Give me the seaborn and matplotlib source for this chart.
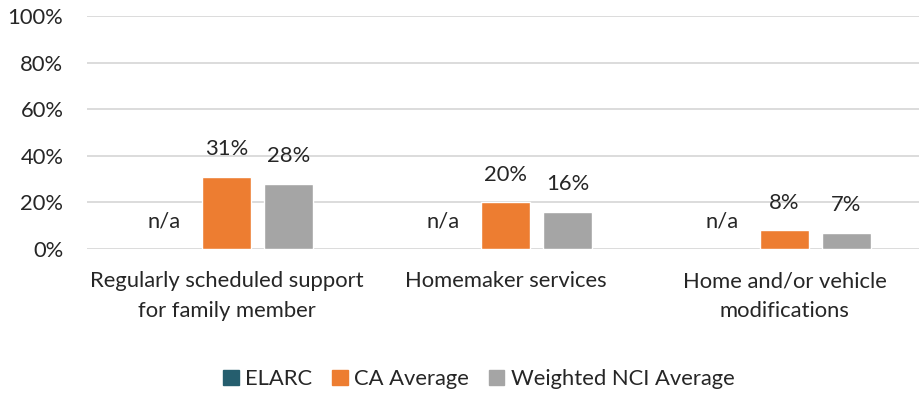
import numpy as np
import pandas as pd
import matplotlib
matplotlib.use("Agg")
import matplotlib.pyplot as plt
import seaborn as sns

categories = [
    "Regularly scheduled support\nfor family member",
    "Homemaker services",
    "Home and/or vehicle\nmodifications",
]
series = ["ELARC", "CA Average", "Weighted NCI Average"]
elarc = [np.nan, np.nan, np.nan]
ca_average = [31, 20, 8]
nci_average = [28, 16, 7]
colors = ["#255E6E", "#ED7D31", "#A5A5A5"]

rows = []
for name, vals in zip(series, [elarc, ca_average, nci_average]):
    for cat, v in zip(categories, vals):
        rows.append({"category": cat, "series": name, "value": v})
df = pd.DataFrame(rows)

sns.set_theme(style="white")
plt.rcParams["font.family"] = ["Lato", "DejaVu Sans"]
text_color = "#262626"
fs = 15.8

fig = plt.figure(figsize=(9.19, 3.93), dpi=100)
ax = fig.add_axes([87 / 919, 144 / 393, 832 / 919, 233 / 393])

width = 0.667
sns.barplot(
    data=df, x="category", y="value", hue="series",
    hue_order=series, order=categories, palette=colors,
    width=width, gap=0.21, ax=ax, legend=False,
    saturation=1, err_kws={"linewidth": 0},
)

ax.set_ylim(0, 100)
ax.set_xlim(-0.5, 2.5 - 5 / 279)
ax.set_yticks(np.arange(0, 101, 20))
ax.set_yticklabels([f"{v}%" for v in range(0, 101, 20)])
ax.yaxis.grid(True, color="#D9D9D9", linewidth=1.3)
ax.set_axisbelow(True)
for s in ax.spines.values():
    s.set_visible(False)
ax.tick_params(axis="y", length=0, pad=17, labelsize=fs, labelcolor=text_color)
ax.tick_params(axis="x", length=0, pad=16, labelsize=fs, labelcolor=text_color)
for lbl in ax.get_xticklabels():
    lbl.set_linespacing(1.58)
ax.set_xlabel("")
ax.set_ylabel("")

# value labels above the drawn bars
for cont in ax.containers:
    heights = [b.get_height() for b in cont]
    if all(np.isnan(h) for h in heights):
        continue
    ax.bar_label(cont, labels=[f"{h:.0f}%" for h in heights],
                 padding=12.5, fontsize=fs, color=text_color)

# ELARC has no values: mark each group with n/a in its slot
slot = width / len(series)
for i, v in enumerate(elarc):
    if np.isnan(v):
        ax.annotate("n/a", xy=(i - slot, 0), xytext=(0, 12.5),
                    textcoords="offset points", ha="center", va="bottom",
                    fontsize=fs, color=text_color)

handles = [plt.Rectangle((0, 0), 1, 1, color=c) for c in colors]
fig.legend(handles, series, loc="center", bbox_to_anchor=(479 / 919, 14 / 393),
           ncol=3, frameon=False, fontsize=fs, handlelength=0.7,
           handleheight=0.7, handletextpad=0.3, columnspacing=0.9,
           labelcolor=text_color)

fig.savefig("out.png", dpi=100)
